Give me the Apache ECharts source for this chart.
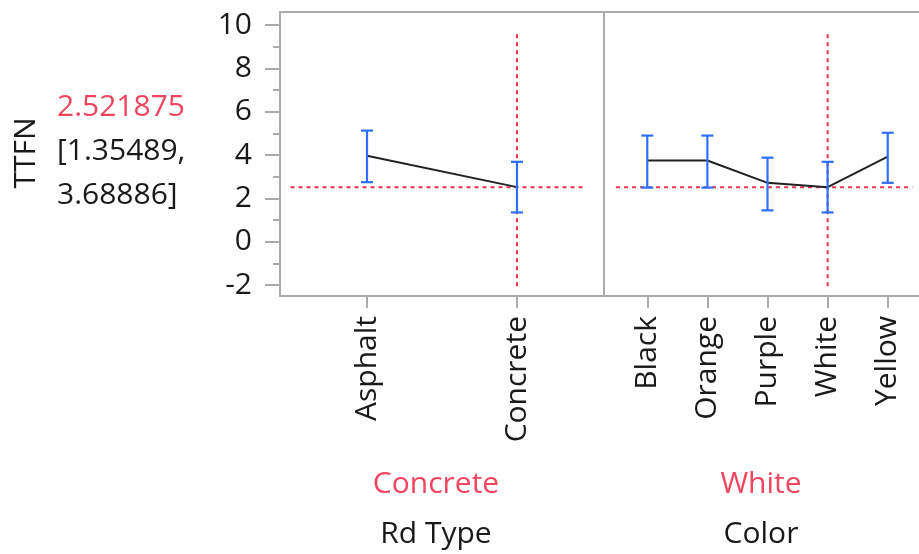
<!DOCTYPE html>
<html>
<head>
<meta charset="utf-8">
<script src="https://cdn.jsdelivr.net/npm/echarts@6/dist/echarts.min.js"></script>
<style>html,body{margin:0;padding:0;background:#fff;overflow:hidden;}#c{width:940px;height:554px;}</style>
</head>
<body>
<div id="c"></div>
<script>
// ---- data ----
const rdTypes = ['Asphalt', 'Concrete'];
const rdMean = [3.97, 2.521875];
const rdLow = [2.75, 1.35489];
const rdHigh = [5.13, 3.68886];

const colorLevels = ['Black', 'Orange', 'Purple', 'White', 'Yellow'];
const colMean = [3.75, 3.75, 2.72, 2.521875, 3.93];
const colLow = [2.50, 2.50, 1.45, 1.35489, 2.72];
const colHigh = [4.90, 4.90, 3.88, 3.68886, 5.03];

const yTicks = [-2, 0, 2, 4, 6, 8, 10];
const yMinorTicks = [-1, 1, 3, 5, 7, 9];

const responseName = 'TTFN';
const currentPrediction = 2.521875;
const currentCI = [1.35489, 3.68886];
const currentRdType = 'Concrete';
const currentColor = 'White';
const factorNames = ['Rd Type', 'Color'];
// extents of the red reference lines (data units)
const refHLeft = [-0.51, 1.46];
const refHRight = [-0.52, 4.41];
const refVRange = [-2.05, 9.69];

// ---- styles ----
const FONT = 'Open Sans';
const FS = 30;
const TXT = '#1a1a1a';
const GRAY = '#ababab';
const BLUE = '#2f6ff8';
const RED = '#f0324f';
const RED_TXT = '#f0455f';
const Y_MIN = -2.5, Y_MAX = 10.6;

const chart = echarts.init(document.getElementById('c'), null, {renderer: 'canvas'});

function errRender(params, api) {
  const x = api.value(0), lo = api.value(1), hi = api.value(2);
  const pLo = api.coord([x, lo]);
  const pHi = api.coord([x, hi]);
  const w = 6;
  const st = {stroke: BLUE, lineWidth: 2.2};
  return {
    type: 'group',
    children: [
      {type: 'line', shape: {x1: pLo[0], y1: pLo[1], x2: pHi[0], y2: pHi[1]}, style: st},
      {type: 'line', shape: {x1: pLo[0] - w, y1: pLo[1], x2: pLo[0] + w, y2: pLo[1]}, style: st},
      {type: 'line', shape: {x1: pHi[0] - w, y1: pHi[1], x2: pHi[0] + w, y2: pHi[1]}, style: st}
    ]
  };
}

function xAxisFor(gi, cats, min, max) {
  const idx = cats.map((c, i) => i);
  return {
    gridIndex: gi, type: 'value', min: min, max: max,
    axisLine: {show: false, onZero: false},
    axisTick: {show: true, customValues: idx, length: 12, lineStyle: {color: GRAY, width: 2}},
    axisLabel: {customValues: idx, formatter: v => cats[Math.round(v)] || '', rotate: 90, margin: 20,
      fontFamily: FONT, fontSize: FS, color: TXT},
    splitLine: {show: false}
  };
}

function yAxisMajor(gi, showLabels) {
  return {
    gridIndex: gi, type: 'value', min: Y_MIN, max: Y_MAX, position: 'left',
    axisLine: {show: false, onZero: false},
    axisTick: {show: showLabels, customValues: yTicks, length: 15, lineStyle: {color: GRAY, width: 2}},
    axisLabel: {show: showLabels, customValues: yTicks, margin: 28, fontFamily: FONT, fontSize: FS, color: TXT},
    splitLine: {show: false}
  };
}

const series = [];
function addPanel(gi, yIdx, cats, mean, low, high, curLevel, hExt) {
  const ci = cats.indexOf(curLevel);
  series.push({
    type: 'line', xAxisIndex: gi, yAxisIndex: yIdx, silent: true, symbol: 'none', z: 2,
    data: [[hExt[0], currentPrediction], [hExt[1], currentPrediction]],
    lineStyle: {color: RED, width: 2, type: [4, 4]}
  });
  series.push({
    type: 'line', xAxisIndex: gi, yAxisIndex: yIdx, silent: true, symbol: 'none', z: 2,
    data: [[ci, refVRange[0]], [ci, refVRange[1]]],
    lineStyle: {color: RED, width: 2, type: [4, 4]}
  });
  series.push({
    type: 'line', xAxisIndex: gi, yAxisIndex: yIdx, silent: true, symbol: 'none', z: 3,
    data: cats.map((c, i) => [i, mean[i]]),
    lineStyle: {color: '#222', width: 2}
  });
  series.push({
    type: 'custom', xAxisIndex: gi, yAxisIndex: yIdx, silent: true, z: 4,
    renderItem: errRender,
    encode: {x: 0, y: [1, 2]},
    data: cats.map((c, i) => [i, low[i], high[i]])
  });
}
addPanel(0, 0, rdTypes, rdMean, rdLow, rdHigh, currentRdType, refHLeft);
addPanel(1, 2, colorLevels, colMean, colLow, colHigh, currentColor, refHRight);

const option = {
  animation: false,
  backgroundColor: '#fff',
  grid: [
    {left: 280, top: 12, width: 324, height: 284, show: true, borderColor: GRAY, borderWidth: 2, backgroundColor: 'transparent'},
    {left: 604, top: 12, width: 327, height: 284, show: true, borderColor: GRAY, borderWidth: 2, backgroundColor: 'transparent'}
  ],
  xAxis: [
    xAxisFor(0, rdTypes, -0.58, 1.58),
    xAxisFor(1, colorLevels, -0.72, 4.72)
  ],
  yAxis: [
    yAxisMajor(0, true),
    {
      gridIndex: 0, type: 'value', min: Y_MIN, max: Y_MAX, position: 'left',
      axisLine: {show: false, onZero: false},
      axisTick: {show: true, customValues: yMinorTicks, length: 7, lineStyle: {color: GRAY, width: 2}},
      axisLabel: {show: false}, splitLine: {show: false}
    },
    yAxisMajor(1, false)
  ],
  graphic: [
    {type: 'text', x: 26, y: 153, rotation: Math.PI / 2,
      style: {text: responseName, fontFamily: FONT, fontSize: FS, fill: TXT, align: 'center', verticalAlign: 'middle'}},
    {type: 'text', x: 57, y: 107,
      style: {text: String(currentPrediction), fontFamily: FONT, fontSize: FS, fill: RED_TXT, align: 'left', verticalAlign: 'middle'}},
    {type: 'text', x: 57, y: 151,
      style: {text: '[' + currentCI[0] + ',', fontFamily: FONT, fontSize: FS, fill: TXT, align: 'left', verticalAlign: 'middle'}},
    {type: 'text', x: 57, y: 195,
      style: {text: currentCI[1] + ']', fontFamily: FONT, fontSize: FS, fill: TXT, align: 'left', verticalAlign: 'middle'}},
    {type: 'text', x: 436, y: 484,
      style: {text: currentRdType, fontFamily: FONT, fontSize: FS, fill: RED_TXT, align: 'center', verticalAlign: 'middle'}},
    {type: 'text', x: 436, y: 534,
      style: {text: factorNames[0], fontFamily: FONT, fontSize: FS, fill: TXT, align: 'center', verticalAlign: 'middle'}},
    {type: 'text', x: 761, y: 484,
      style: {text: currentColor, fontFamily: FONT, fontSize: FS, fill: RED_TXT, align: 'center', verticalAlign: 'middle'}},
    {type: 'text', x: 761, y: 534,
      style: {text: factorNames[1], fontFamily: FONT, fontSize: FS, fill: TXT, align: 'center', verticalAlign: 'middle'}}
  ],
  series: series
};
chart.setOption(option);
</script>
</body>
</html>
